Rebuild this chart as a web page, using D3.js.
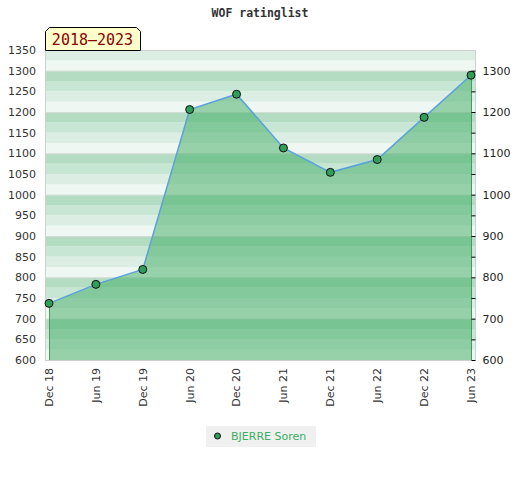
<!DOCTYPE html>
<meta charset="utf-8">
<script src="https://d3js.org/d3.v7.min.js"></script>
<style>
  body { margin: 0; background: #fff; }
</style>
<div id="chart"></div>
<script>

// data
const periods = ["Dec 18", "Jun 19", "Dec 19", "Jun 20", "Dec 20", "Jun 21", "Dec 21", "Jun 22", "Dec 22", "Jun 23"];
const ratings = [737, 783, 819, 1206, 1243, 1113, 1054, 1085, 1187, 1289];
const leftTicks = [600, 650, 700, 750, 800, 850, 900, 950, 1000, 1050, 1100, 1150, 1200, 1250, 1300, 1350];
const rightTicks = [600, 700, 800, 900, 1000, 1100, 1200, 1300];
const playerName = "BJERRE Soren";
const titleText = "WOF ratinglist";
const badgeText = "2018\u20132023";

const W = 520, H = 480;
const plot = {left: 45, right: 476, top: 50, bottom: 360};

const svg = d3.select("#chart").append("svg")
    .attr("width", W)
    .attr("height", H);

const x = d3.scalePoint()
    .domain(periods)
    .range([49, 471]);

const y = d3.scaleLinear()
    .domain([600, 1350])
    .range([plot.bottom, plot.top]);

// striped background, 4 bands per 100 points, darker at the top of each block
const bandColors = ["#eef7f1", "#dcede3", "#c7e6d3", "#b3dcc2"];
const bands = d3.range(600, 1350, 25);
svg.append("g")
  .selectAll("rect")
  .data(bands)
  .join("rect")
    .attr("x", plot.left)
    .attr("width", plot.right - plot.left)
    .attr("y", d => y(d + 25))
    .attr("height", d => y(d) - y(d + 25))
    .attr("fill", d => bandColors[((d - 600) / 25) % 4]);

// gridlines every 100
svg.append("g")
  .selectAll("line")
  .data(rightTicks)
  .join("line")
    .attr("x1", plot.left).attr("x2", plot.right)
    .attr("y1", d => y(d) + 0.5).attr("y2", d => y(d) + 0.5)
    .attr("stroke", "#d4dcd7")
    .attr("stroke-width", 1);

// area under the rating line
const area = d3.area()
    .x((d, i) => x(periods[i]))
    .y0(y(600))
    .y1(d => y(d));

svg.append("path")
    .datum(ratings)
    .attr("d", area)
    .attr("fill", "rgb(64,171,100)")
    .attr("fill-opacity", 0.5);

// vertical edges of the area
const last = ratings.length - 1;
svg.append("line")
    .attr("x1", x(periods[0]) + 0.5).attr("x2", x(periods[0]) + 0.5)
    .attr("y1", y(ratings[0])).attr("y2", y(600))
    .attr("stroke", "#4b9a64");
svg.append("line")
    .attr("x1", x(periods[last]) + 0.5).attr("x2", x(periods[last]) + 0.5)
    .attr("y1", y(ratings[last])).attr("y2", y(600))
    .attr("stroke", "#3aa05c");

// frame
svg.append("path")
    .attr("d", `M${plot.left + 0.5},${plot.top + 0.5}H${plot.right - 0.5}V${plot.bottom + 0.5}H${plot.left + 0.5}Z`)
    .attr("fill", "none")
    .attr("stroke", "#cfcfcf");

// rating line
const line = d3.line()
    .x((d, i) => x(periods[i]))
    .y(d => y(d));

svg.append("path")
    .datum(ratings)
    .attr("d", line)
    .attr("fill", "none")
    .attr("stroke", "#5aa2dc")
    .attr("stroke-width", 1.5);

svg.append("g")
  .selectAll("circle")
  .data(ratings)
  .join("circle")
    .attr("cx", (d, i) => x(periods[i]))
    .attr("cy", d => y(d))
    .attr("r", 4)
    .attr("fill", "#2f9e58")
    .attr("stroke", "#111")
    .attr("stroke-width", 1);

// left axis labels
svg.append("g")
  .selectAll("text")
  .data(leftTicks)
  .join("text")
    .attr("x", 36)
    .attr("y", d => y(d))
    .attr("dy", "0.35em")
    .attr("text-anchor", "end")
    .attr("font-family", "DejaVu Sans, sans-serif")
    .attr("font-size", 11)
    .attr("fill", "#333")
    .text(d => d);

// right axis: ticks every 50, labels every 100
const rightAxis = d3.axisRight(y)
    .tickValues(d3.range(600, 1301, 50))
    .tickSize(4)
    .tickFormat(d => d % 100 === 0 ? d : "");

const ra = svg.append("g")
    .attr("transform", `translate(${plot.right - 4.5},0)`)
    .call(rightAxis);
ra.select(".domain").remove();
ra.selectAll(".tick line").attr("stroke", "#000");
ra.selectAll(".tick text")
    .attr("x", 11)
    .attr("font-family", "DejaVu Sans, sans-serif")
    .attr("font-size", 11)
    .attr("fill", "#222");

// bottom labels, rotated
svg.append("g")
  .selectAll("text")
  .data(periods)
  .join("text")
    .attr("transform", d => `translate(${x(d)},368) rotate(-90)`)
    .attr("dy", "0.35em")
    .attr("text-anchor", "end")
    .attr("font-family", "DejaVu Sans, sans-serif")
    .attr("font-size", 11)
    .attr("fill", "#333")
    .text(d => d);

// title
svg.append("text")
    .attr("x", 260)
    .attr("y", 17)
    .attr("text-anchor", "middle")
    .attr("font-family", "DejaVu Sans Mono, monospace")
    .attr("font-weight", "bold")
    .attr("font-size", 11.5)
    .attr("fill", "#333")
    .text(titleText);

// period badge
svg.append("path")
    .attr("d", "M45.5,50.5V31.5L49.5,27.5H136.5L140.5,31.5V50.5Z")
    .attr("fill", "#ffffcc")
    .attr("stroke", "#000");
svg.append("text")
    .attr("x", 92.5)
    .attr("y", 45)
    .attr("text-anchor", "middle")
    .attr("font-family", "DejaVu Sans Mono, monospace")
    .attr("font-size", 15)
    .attr("fill", "#8b0000")
    .text(badgeText);

// legend
const legend = svg.append("g");
legend.append("rect")
    .attr("x", 206).attr("y", 426)
    .attr("width", 110).attr("height", 21)
    .attr("fill", "#f0f0f0");
legend.append("circle")
    .attr("cx", 217.5).attr("cy", 436)
    .attr("r", 3)
    .attr("fill", "#2f9e58")
    .attr("stroke", "#111");
legend.append("text")
    .attr("x", 231)
    .attr("y", 440)
    .attr("font-family", "DejaVu Sans, sans-serif")
    .attr("font-size", 11)
    .attr("fill", "#3aae62")
    .text(playerName);

</script>
